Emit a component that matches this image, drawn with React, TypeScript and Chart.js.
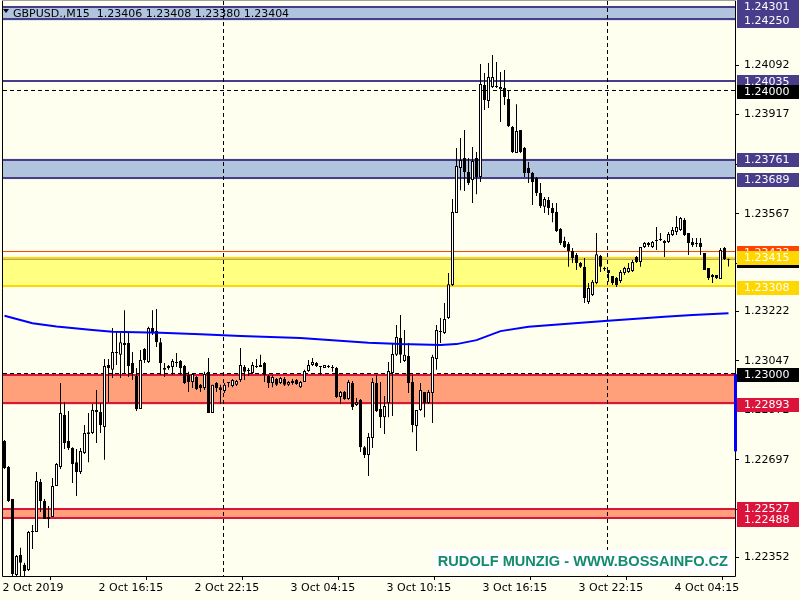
import React, { useEffect, useRef } from 'react';
import { Chart, registerables } from 'chart.js';

Chart.register(...registerables);

const SYMBOL = 'GBPUSD.,M15';

const OPEN = [
  1.22764, 1.22672, 1.22559, 1.22290, 1.22361, 1.22326, 1.22308, 1.22442, 1.22442, 1.22619,
  1.22552, 1.22495, 1.22495, 1.22605, 1.22672, 1.22856, 1.22764, 1.22739, 1.22689, 1.22654,
  1.22721, 1.22788, 1.22792, 1.22866, 1.22866, 1.22813, 1.23032, 1.23015, 1.23075, 1.23068,
  1.23110, 1.23110, 1.23039, 1.22993, 1.22877, 1.23089, 1.23043, 1.23163, 1.23152, 1.23113,
  1.23022, 1.23029, 1.23025, 1.23039, 1.23046, 1.23029, 1.22997, 1.22972, 1.22990, 1.22962,
  1.22951, 1.23008, 1.22863, 1.22969, 1.22954, 1.22940, 1.22969, 1.22958, 1.22962, 1.22979,
  1.23025, 1.23015, 1.23004, 1.23029, 1.23025, 1.23039, 1.22993, 1.22969, 1.22983, 1.22969,
  1.22983, 1.22962, 1.22969, 1.22979, 1.22954, 1.22972, 1.23011, 1.23032, 1.23039, 1.23029,
  1.23022, 1.23029, 1.23025, 1.23022, 1.22919, 1.22937, 1.22912, 1.22969, 1.22891, 1.22909,
  1.22742, 1.22714, 1.22774, 1.22969, 1.22877, 1.22848, 1.22898, 1.23004, 1.23068, 1.23128,
  1.23046, 1.23064, 1.22972, 1.22817, 1.22873, 1.22937, 1.22898, 1.22933, 1.23053, 1.23149,
  1.23145, 1.23198, 1.23315, 1.23569, 1.23728, 1.23764, 1.23714, 1.23686, 1.23764, 1.23697,
  1.24022, 1.23965, 1.24015, 1.24018, 1.24007, 1.24011, 1.23972, 1.23873, 1.23781, 1.23863,
  1.23799, 1.23728, 1.23711, 1.23693, 1.23640, 1.23591, 1.23615, 1.23587, 1.23573, 1.23513,
  1.23470, 1.23460, 1.23435, 1.23421, 1.23393, 1.23379, 1.23255, 1.23280, 1.23322, 1.23417,
  1.23375, 1.23368, 1.23347, 1.23340, 1.23329, 1.23357, 1.23361, 1.23364, 1.23414, 1.23396,
  1.23449, 1.23456, 1.23449, 1.23470, 1.23474, 1.23463, 1.23467, 1.23492, 1.23502, 1.23509,
  1.23545, 1.23499, 1.23467, 1.23463, 1.23463, 1.23428, 1.23375, 1.23350, 1.23350, 1.23336,
  1.23446, 1.23406,
];

const HIGH = [
  1.22767, 1.22675, 1.22559, 1.22361, 1.22386, 1.22333, 1.22446, 1.22467, 1.22654, 1.22629,
  1.22559, 1.22534, 1.22633, 1.22686, 1.22969, 1.22901, 1.22870, 1.22742, 1.22735, 1.22739,
  1.22820, 1.22863, 1.22894, 1.22944, 1.22898, 1.23053, 1.23053, 1.23163, 1.23152, 1.23145,
  1.23226, 1.23149, 1.23078, 1.23022, 1.23085, 1.23092, 1.23167, 1.23226, 1.23230, 1.23128,
  1.23039, 1.23032, 1.23053, 1.23075, 1.23050, 1.23032, 1.23008, 1.23004, 1.22993, 1.22965,
  1.23008, 1.23057, 1.22962, 1.22972, 1.22962, 1.22969, 1.22972, 1.22983, 1.22979, 1.23092,
  1.23032, 1.23022, 1.23043, 1.23053, 1.23068, 1.23043, 1.22997, 1.22997, 1.22986, 1.22990,
  1.22990, 1.22976, 1.22983, 1.22983, 1.22976, 1.23015, 1.23050, 1.23057, 1.23043, 1.23029,
  1.23032, 1.23032, 1.23032, 1.23025, 1.22940, 1.22940, 1.22979, 1.22976, 1.22916, 1.22912,
  1.22746, 1.22792, 1.22986, 1.22997, 1.22972, 1.22923, 1.23043, 1.23110, 1.23174, 1.23209,
  1.23156, 1.23110, 1.22997, 1.22873, 1.22969, 1.22937, 1.22944, 1.23068, 1.23174, 1.23198,
  1.23251, 1.23357, 1.23619, 1.23799, 1.23834, 1.23863, 1.23764, 1.23803, 1.23785, 1.24096,
  1.24064, 1.24099, 1.24128, 1.24103, 1.24068, 1.24075, 1.24004, 1.23877, 1.23954, 1.23863,
  1.23803, 1.23750, 1.23714, 1.23697, 1.23675, 1.23626, 1.23626, 1.23605, 1.23605, 1.23516,
  1.23485, 1.23467, 1.23446, 1.23428, 1.23396, 1.23410, 1.23322, 1.23333, 1.23499, 1.23421,
  1.23379, 1.23368, 1.23347, 1.23343, 1.23368, 1.23379, 1.23393, 1.23403, 1.23417, 1.23449,
  1.23467, 1.23467, 1.23470, 1.23520, 1.23499, 1.23474, 1.23502, 1.23520, 1.23559, 1.23555,
  1.23552, 1.23499, 1.23481, 1.23481, 1.23481, 1.23428, 1.23375, 1.23354, 1.23350, 1.23446,
  1.23449, 1.23408,
];

const LOW = [
  1.22665, 1.22548, 1.22287, 1.22287, 1.22287, 1.22287, 1.22304, 1.22382, 1.22442, 1.22513,
  1.22488, 1.22456, 1.22495, 1.22605, 1.22665, 1.22735, 1.22732, 1.22615, 1.22569, 1.22647,
  1.22718, 1.22689, 1.22788, 1.22757, 1.22792, 1.22697, 1.22901, 1.22986, 1.23032, 1.22986,
  1.23004, 1.22990, 1.22979, 1.22870, 1.22877, 1.23039, 1.23039, 1.23138, 1.23096, 1.22997,
  1.22990, 1.23015, 1.22997, 1.23025, 1.22997, 1.22965, 1.22937, 1.22951, 1.22944, 1.22937,
  1.22944, 1.22863, 1.22863, 1.22937, 1.22894, 1.22933, 1.22954, 1.22954, 1.22958, 1.22972,
  1.22979, 1.22993, 1.23000, 1.23022, 1.23025, 1.22972, 1.22951, 1.22954, 1.22958, 1.22965,
  1.22958, 1.22958, 1.22962, 1.22962, 1.22951, 1.22972, 1.23008, 1.23029, 1.23025, 1.22997,
  1.23022, 1.23022, 1.23008, 1.22916, 1.22894, 1.22909, 1.22909, 1.22873, 1.22887, 1.22725,
  1.22704, 1.22640, 1.22739, 1.22866, 1.22810, 1.22788, 1.22848, 1.22852, 1.23064, 1.23039,
  1.23043, 1.22933, 1.22795, 1.22728, 1.22870, 1.22848, 1.22894, 1.22827, 1.23015, 1.23110,
  1.23142, 1.23195, 1.23311, 1.23569, 1.23650, 1.23647, 1.23668, 1.23605, 1.23636, 1.23679,
  1.23933, 1.23940, 1.24011, 1.24011, 1.23891, 1.23951, 1.23873, 1.23781, 1.23781, 1.23781,
  1.23697, 1.23675, 1.23598, 1.23629, 1.23587, 1.23569, 1.23562, 1.23537, 1.23502, 1.23456,
  1.23446, 1.23379, 1.23393, 1.23368, 1.23375, 1.23251, 1.23248, 1.23276, 1.23318, 1.23361,
  1.23364, 1.23326, 1.23315, 1.23308, 1.23322, 1.23350, 1.23357, 1.23361, 1.23393, 1.23379,
  1.23446, 1.23449, 1.23446, 1.23439, 1.23470, 1.23414, 1.23463, 1.23488, 1.23492, 1.23506,
  1.23488, 1.23421, 1.23449, 1.23449, 1.23421, 1.23368, 1.23333, 1.23322, 1.23336, 1.23336,
  1.23403, 1.23380,
];

const CLOSE = [
  1.22668, 1.22552, 1.22294, 1.22357, 1.22333, 1.22304, 1.22442, 1.22446, 1.22622, 1.22552,
  1.22488, 1.22488, 1.22605, 1.22682, 1.22863, 1.22757, 1.22739, 1.22682, 1.22654, 1.22728,
  1.22792, 1.22795, 1.22873, 1.22873, 1.22820, 1.23029, 1.23022, 1.23078, 1.23078, 1.23113,
  1.23103, 1.23029, 1.23004, 1.22877, 1.23050, 1.23050, 1.23163, 1.23145, 1.23113, 1.23039,
  1.23015, 1.23022, 1.23046, 1.23043, 1.23022, 1.22969, 1.22972, 1.23000, 1.22947, 1.22951,
  1.23000, 1.22863, 1.22962, 1.22951, 1.22944, 1.22962, 1.22972, 1.22979, 1.22976, 1.23032,
  1.23008, 1.23011, 1.23032, 1.23025, 1.23032, 1.22997, 1.22969, 1.22990, 1.22962, 1.22986,
  1.22962, 1.22972, 1.22976, 1.22965, 1.22972, 1.23011, 1.23032, 1.23043, 1.23029, 1.23025,
  1.23032, 1.23025, 1.23022, 1.22919, 1.22937, 1.22912, 1.22972, 1.22884, 1.22901, 1.22742,
  1.22714, 1.22778, 1.22972, 1.22870, 1.22848, 1.22887, 1.23011, 1.23071, 1.23131, 1.23068,
  1.23068, 1.22969, 1.22820, 1.22873, 1.22944, 1.22898, 1.22937, 1.23061, 1.23156, 1.23152,
  1.23195, 1.23318, 1.23573, 1.23735, 1.23757, 1.23714, 1.23675, 1.23753, 1.23697, 1.24025,
  1.23969, 1.24050, 1.24050, 1.24015, 1.24015, 1.23979, 1.23877, 1.23785, 1.23859, 1.23785,
  1.23711, 1.23711, 1.23679, 1.23640, 1.23594, 1.23619, 1.23587, 1.23569, 1.23506, 1.23463,
  1.23449, 1.23435, 1.23410, 1.23393, 1.23379, 1.23269, 1.23304, 1.23326, 1.23424, 1.23379,
  1.23371, 1.23357, 1.23322, 1.23315, 1.23361, 1.23375, 1.23375, 1.23396, 1.23396, 1.23449,
  1.23463, 1.23463, 1.23467, 1.23474, 1.23477, 1.23470, 1.23495, 1.23509, 1.23520, 1.23552,
  1.23492, 1.23463, 1.23456, 1.23460, 1.23449, 1.23368, 1.23340, 1.23343, 1.23340, 1.23439,
  1.23407, 1.23404,
];

// moving average (read at selected bars)
const MA_BARS = [0, 7, 13, 22, 27, 39, 49, 59, 74, 82, 91, 99, 109, 113, 118, 124, 131, 140, 150, 158, 165, 172, 181];
const MA_VALUES = [
  1.23206, 1.23180, 1.23168, 1.23156, 1.23150, 1.23146, 1.23141, 1.23135, 1.23128, 1.23120,
  1.23111, 1.23106, 1.23103, 1.23106, 1.23120, 1.23152, 1.23167, 1.23177, 1.23188, 1.23196,
  1.23203, 1.23209, 1.23215,
];

const X_TICK_BARS = [0, 24, 48, 72, 96, 120, 144, 168];
const X_TICK_LABELS = ['2 Oct 2019', '2 Oct 16:15', '2 Oct 22:15', '3 Oct 04:15', '3 Oct 10:15', '3 Oct 16:15', '3 Oct 22:15', '4 Oct 04:15'];
const Y_TICKS = [1.24092, 1.23917, 1.23742, 1.23567, 1.23392, 1.23222, 1.23047, 1.22872, 1.22697, 1.22522, 1.22352];
const Y_MIN = 1.222866;
const Y_MAX = 1.243185;
const X_MIN = -0.375;
const X_MAX = 182.625;
const DAY_SEPARATOR_BARS = [55, 151];

// rectangles (zones)
const ZONE_LOW = [1.24250, 1.23689, 1.23308, 1.22893, 1.22488];
const ZONE_HIGH = [1.24301, 1.23761, 1.23415, 1.23000, 1.22527];
const ZONE_FILL = ['#B0C4DE', '#B0C4DE', '#FFFF80', '#FFA07A', '#FFA07A'];
const ZONE_EDGE = ['#483D8B', '#483D8B', '#FFD700', '#DC143C', '#DC143C'];

// horizontal lines
const LEVELS = [1.24035, 1.24000, 1.23433, 1.23404, 1.23000];
const LEVEL_COLORS = ['#483D8B', '#000000', '#FF4500', '#A0A0A0', '#000000'];
const LEVEL_DASHED = [false, true, false, false, true];
const LEVEL_WIDTHS = [2, 1, 1, 1, 1];

// price tags on the axis
const PRICE_TAGS = [1.24301, 1.24250, 1.24035, 1.24000, 1.23761, 1.23689, 1.23433, 1.23404, 1.23415, 1.23308, 1.23000, 1.22893, 1.22527, 1.22488];
const PRICE_TAG_COLORS = ['#483D8B', '#483D8B', '#483D8B', '#000000', '#483D8B', '#483D8B', '#FF4500', '#000000', '#FFD700', '#FFD700', '#000000', '#DC143C', '#DC143C', '#DC143C'];

const RANGE_BAR = [1.23000, 1.22727];
const WATERMARK = 'RUDOLF MUNZIG - WWW.BOSSAINFO.CZ';

const FONT_FAMILY = '"DejaVu Sans", sans-serif';
const FONT_SIZE = 11;

const mtPlugin = {
  id: 'mtDecor',
  beforeDraw(chart: any) {
    const { ctx, width, height } = chart;
    ctx.save();
    ctx.fillStyle = '#FFFFF0';
    ctx.fillRect(0, 0, width, height);
    ctx.restore();
  },
  beforeDatasetsDraw(chart: any) {
    const { ctx, chartArea: a, scales } = chart;
    const ys = scales.y;
    const xs = scales.x;
    ctx.save();
    ctx.beginPath();
    ctx.rect(a.left, a.top, a.right - a.left, a.bottom - a.top);
    ctx.clip();
    ZONE_LOW.forEach((lo: number, i: number) => {
      const yTop = ys.getPixelForValue(ZONE_HIGH[i]);
      const yBot = ys.getPixelForValue(lo);
      ctx.fillStyle = ZONE_FILL[i];
      ctx.fillRect(a.left, yTop, a.right - a.left, yBot - yTop);
      ctx.strokeStyle = ZONE_EDGE[i];
      ctx.lineWidth = 2;
      [Math.round(yTop + 1), Math.round(yBot - 1)].forEach((y) => {
        ctx.beginPath();
        ctx.moveTo(a.left, y);
        ctx.lineTo(a.right, y);
        ctx.stroke();
      });
    });
    LEVELS.forEach((v: number, i: number) => {
      const w = LEVEL_WIDTHS[i];
      let y = Math.round(ys.getPixelForValue(v));
      if (w % 2 === 1) y -= 0.5;
      ctx.strokeStyle = LEVEL_COLORS[i];
      ctx.lineWidth = w;
      ctx.setLineDash(LEVEL_DASHED[i] ? [4, 3] : []);
      ctx.beginPath();
      ctx.moveTo(a.left, y);
      ctx.lineTo(a.right, y);
      ctx.stroke();
    });
    ctx.setLineDash([4, 3]);
    ctx.strokeStyle = '#000000';
    ctx.lineWidth = 1;
    DAY_SEPARATOR_BARS.forEach((b: number) => {
      const x = Math.floor(xs.getPixelForValue(b)) - 0.5;
      ctx.beginPath();
      ctx.moveTo(x, a.top);
      ctx.lineTo(x, a.bottom);
      ctx.stroke();
    });
    ctx.restore();
  },
  afterDraw(chart: any) {
    const { ctx, chartArea: a, scales, width } = chart;
    const ys = scales.y;
    ctx.save();
    // watermark
    ctx.font = `bold 14.6px "Liberation Sans", Arial, sans-serif`;
    const tw = ctx.measureText(WATERMARK).width;
    const boxRight = a.right - 3;
    const boxBottom = a.bottom - 3;
    ctx.fillStyle = '#FFFFFF';
    ctx.fillRect(boxRight - tw - 8, boxBottom - 23, tw + 8, 23);
    ctx.fillStyle = '#128B6E';
    ctx.textAlign = 'right';
    ctx.textBaseline = 'middle';
    ctx.fillText(WATERMARK, boxRight - 4, boxBottom - 11);

    // header
    const last = OPEN.length - 1;
    const header = `${SYMBOL}  ${[OPEN[last], HIGH[last], LOW[last], CLOSE[last]].map((v) => v.toFixed(5)).join(' ')}`;
    ctx.fillStyle = '#000000';
    ctx.beginPath();
    ctx.moveTo(3, 9);
    ctx.lineTo(9, 9);
    ctx.lineTo(6, 13);
    ctx.closePath();
    ctx.fill();
    ctx.font = `${FONT_SIZE}px ${FONT_FAMILY}`;
    ctx.textAlign = 'left';
    ctx.textBaseline = 'alphabetic';
    ctx.fillText(header, 13, 17);

    // borders
    ctx.strokeStyle = '#000000';
    ctx.lineWidth = 1;
    ctx.beginPath();
    ctx.moveTo(a.left - 0.5, 0);
    ctx.lineTo(a.left - 0.5, a.bottom + 0.5);
    ctx.lineTo(a.right + 0.5, a.bottom + 0.5);
    ctx.lineTo(a.right + 0.5, 0);
    ctx.stroke();
    ctx.strokeStyle = '#A0A0A0';
    ctx.beginPath();
    ctx.moveTo(a.left - 1, 0.5);
    ctx.lineTo(a.right + 1, 0.5);
    ctx.stroke();

    // range bar
    ctx.strokeStyle = '#0000FF';
    ctx.lineWidth = 3;
    ctx.beginPath();
    ctx.moveTo(a.right + 0.5, ys.getPixelForValue(RANGE_BAR[0]));
    ctx.lineTo(a.right + 0.5, ys.getPixelForValue(RANGE_BAR[1]));
    ctx.stroke();

    // price tags
    ctx.font = `${FONT_SIZE}px ${FONT_FAMILY}`;
    ctx.textAlign = 'left';
    ctx.textBaseline = 'middle';
    PRICE_TAGS.forEach((v: number, i: number) => {
      const y = Math.round(ys.getPixelForValue(v)) + 1;
      ctx.fillStyle = PRICE_TAG_COLORS[i];
      ctx.fillRect(a.right + 2, y - 7, width - a.right - 3, 14);
      ctx.fillStyle = '#FFFFFF';
      ctx.fillText(v.toFixed(5), a.right + 9, y);
    });
    ctx.restore();
  },
};

export default function App() {
  const ref = useRef<HTMLCanvasElement>(null);
  useEffect(() => {
    const canvas = ref.current;
    if (!canvas) return;
    const idx = OPEN.map((_, i) => i);
    const bodyData = idx.map((i) => ({ x: i, y: [Math.min(OPEN[i], CLOSE[i]), Math.max(OPEN[i], CLOSE[i])] }));
    const wickData = idx.map((i) => ({ x: i, y: [LOW[i], HIGH[i]] }));
    const bodyColors = idx.map((i) => (CLOSE[i] >= OPEN[i] ? '#FFFFFF' : '#000000'));
    const maData = MA_BARS.map((b, i) => ({ x: b, y: MA_VALUES[i] }));
    const font = { family: FONT_FAMILY, size: FONT_SIZE };

    const chart = new Chart(canvas, {
      type: 'bar',
      data: {
        datasets: [
          {
            type: 'line',
            label: 'MA',
            data: maData as any,
            borderColor: '#0000FF',
            borderWidth: 2,
            pointRadius: 0,
            tension: 0,
            fill: false,
            order: 0,
          } as any,
          {
            label: 'body',
            data: bodyData as any,
            backgroundColor: bodyColors,
            borderColor: '#000000',
            borderWidth: 1,
            borderSkipped: false,
            barThickness: 3,
            minBarLength: 1,
            grouped: false,
            inflateAmount: 0,
            order: 1,
          } as any,
          {
            label: 'wick',
            data: wickData as any,
            backgroundColor: '#000000',
            borderWidth: 0,
            barThickness: 1,
            minBarLength: 1,
            grouped: false,
            inflateAmount: 0,
            order: 2,
          } as any,
        ],
      },
      options: {
        responsive: false,
        animation: false,
        devicePixelRatio: 1,
        layout: { padding: { left: 3, top: 1, right: 0, bottom: 0 }, autoPadding: false } as any,
        plugins: { legend: { display: false }, tooltip: { enabled: false } },
        scales: {
          x: {
            type: 'linear',
            position: 'bottom',
            min: X_MIN,
            max: X_MAX,
            offset: false,
            afterBuildTicks: (s: any) => {
              s.ticks = X_TICK_BARS.map((b) => ({ value: b - 0.5 }));
            },
            afterFit: (s: any) => {
              s.height = 24;
              s.paddingLeft = 0;
              s.paddingRight = 0;
              s.paddingTop = 0;
              s.paddingBottom = 0;
            },
            grid: { drawOnChartArea: false, drawTicks: true, tickLength: 4, color: '#000000', lineWidth: 1 },
            border: { display: false },
            ticks: {
              autoSkip: false,
              maxRotation: 0,
              minRotation: 0,
              align: 'start',
              padding: 2,
              color: '#000000',
              font,
              callback: (_v: any, i: number) => X_TICK_LABELS[i],
            },
          } as any,
          y: {
            type: 'linear',
            position: 'right',
            min: Y_MIN,
            max: Y_MAX,
            afterBuildTicks: (s: any) => {
              s.ticks = Y_TICKS.map((v) => ({ value: v }));
            },
            afterFit: (s: any) => {
              s.width = 65;
              s.paddingTop = 0;
              s.paddingBottom = 0;
              s.paddingLeft = 0;
              s.paddingRight = 0;
            },
            grid: { drawOnChartArea: false, drawTicks: true, tickLength: 4, color: '#000000', lineWidth: 1 },
            border: { display: false },
            ticks: {
              padding: 5,
              color: '#000000',
              font,
              callback: (v: any) => Number(v).toFixed(5),
            },
          } as any,
        },
      },
      plugins: [mtPlugin],
    } as any);
    return () => chart.destroy();
  }, []);

  return (
    <div style={{ position: 'fixed', left: 0, top: 0, width: 800, height: 600, background: '#FFFFF0' }}>
      <canvas ref={ref} width={800} height={600} style={{ display: 'block', width: 800, height: 600 }} />
    </div>
  );
}
